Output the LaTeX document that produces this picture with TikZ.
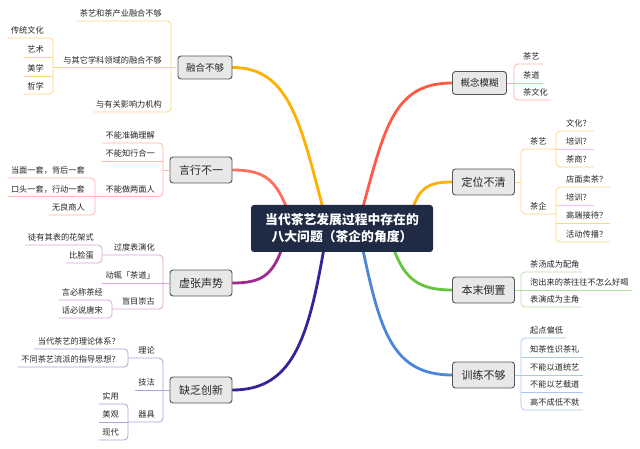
\documentclass[tikz,border=0pt]{standalone}
\usepackage{fontspec}
\setmainfont{Noto Sans CJK SC}
\usetikzlibrary{backgrounds}
\definecolor{mOrange}{HTML}{FFB000}
\definecolor{mSalmon}{HTML}{FF6F5E}
\definecolor{mPurple}{HTML}{9E2B8F}
\definecolor{mIndigo}{HTML}{34239A}
\definecolor{mRed}{HTML}{FF5A45}
\definecolor{mGreen}{HTML}{66C43E}
\definecolor{mBlue}{HTML}{4A86DA}
\definecolor{lOrange}{HTML}{FFD683}
\definecolor{lSalmon}{HTML}{FFB6AD}
\definecolor{lPurple}{HTML}{D9A5D4}
\definecolor{lIndigo}{HTML}{ABA3DC}
\definecolor{lRed}{HTML}{FFB1A6}
\definecolor{lGreen}{HTML}{B5E2A2}
\definecolor{lBlue}{HTML}{A9C7EF}
\definecolor{navy}{HTML}{1F2A44}
\definecolor{boxfill}{HTML}{E8E8E8}
\definecolor{boxline}{HTML}{555555}
\begin{document}
\begin{tikzpicture}[x=1pt,y=-1pt,
  leaf/.style={font=\fontsize{8.2}{9}\selectfont, text=black!85, inner xsep=3pt, inner ysep=3pt, text height=7pt, text depth=1pt},
  leafL/.style={leaf, anchor=south east},
  leafR/.style={leaf, anchor=south west},
  topic/.style={draw=boxline, fill=boxfill, rounded corners=3pt, line width=0.9pt, inner sep=0pt, minimum width=62pt, minimum height=26pt, font=\fontsize{11}{12}\selectfont, text=black!85},
  topicS/.style={topic, minimum width=54pt, minimum height=23pt, font=\fontsize{9.5}{11}\selectfont},
  center/.style={fill=navy, rounded corners=3pt, minimum width=182pt, minimum height=47pt, inner sep=0pt, align=center, text=white, font=\fontsize{12.8}{17}\selectfont\bfseries},
  main/.style={line width=2.8pt, line cap=round},
  sub/.style={line width=0.8pt, rounded corners=4pt},
]
\useasboundingbox (0,0) rectangle (640,449);

% ---------- center and topics
\node[center] (C) at (342,228.5) {当代茶艺发展过程中存在的\\八大问题（茶企的角度）};
\node[topicS] (T1) at (205,67.5) {融合不够};
\node[topic] (T2) at (201,170) {言行不一};
\node[topic] (T3) at (201,283) {虚张声势};
\node[topic] (T4) at (201,390) {缺乏创新};
\node[topicS] (R1) at (479.5,83) {概念模糊};
\node[topic] (R2) at (483.5,182) {定位不清};
\node[topic] (R3) at (483.5,290) {本末倒置};
\node[topic] (R4) at (483.5,375) {训练不够};

\begin{scope}[on background layer]
\fill[white] (0,0) rectangle (640,449);
\draw[main, mOrange] ([xshift=72pt,yshift=-3pt]C.north west) .. controls (300,120) and (288,67.5) .. (T1.east);
\draw[main, mSalmon] ([xshift=36pt,yshift=-3pt]C.north west) .. controls (275,180) and (265,170) .. (T2.east);
\draw[main, mPurple] ([xshift=31pt,yshift=3pt]C.south west) .. controls (272,275) and (262,283) .. (T3.east);
\draw[main, mIndigo] ([xshift=73pt,yshift=3pt]C.south west) .. controls (308,340) and (292,390) .. (T4.east);
\draw[main, mRed] ([xshift=112pt,yshift=-3pt]C.north west) .. controls (385,125) and (395,83) .. (R1.west);
\draw[main, mOrange] ([xshift=162pt,yshift=-3pt]C.north west) .. controls (420,188) and (428,182) .. (R2.west);
\draw[main, mGreen] ([xshift=143pt,yshift=3pt]C.south west) .. controls (405,280) and (420,290) .. (R3.west);
\draw[main, mBlue] ([xshift=112pt,yshift=3pt]C.south west) .. controls (380,330) and (392,375) .. (R4.west);
\end{scope}

% ---------- 融合不够
\coordinate (J1) at (171,67.5);
\coordinate (J1b) at (53,67.5);
\node[leafL] (a1) at (165,21) {茶艺和茶产业融合不够};
\node[leafL] (a2) at (165,67.5) {与其它学科领域的融合不够};
\node[leafL] (a3) at (165,112) {与有关影响力机构};
\draw[sub, lOrange] (a1.south west) -- (a1.south west -| J1) -- (a3.south west -| J1) -- (a3.south west);
\draw[sub, lOrange] (J1b) -- (T1.west);
\node[leafL] (b1) at (47,38) {传统文化};
\node[leafL] (b2) at (47,57) {艺术};
\node[leafL] (b3) at (47,76) {美学};
\node[leafL] (b4) at (47,94) {哲学};
\draw[sub, lOrange] (b1.south west) -- (b1.south west -| J1b) -- (b4.south west -| J1b) -- (b4.south west);
\draw[sub, lOrange] (b2.south west) -- (b2.south west -| J1b);
\draw[sub, lOrange] (b3.south west) -- (b3.south west -| J1b);

% ---------- 言行不一
\coordinate (J2) at (163,170);
\coordinate (J2b) at (95,196.5);
\node[leafL] (c1) at (158,143) {不能准确理解};
\node[leafL] (c2) at (158,161) {不能知行合一};
\node[leafL] (c3) at (158,196.5) {不能做两面人};
\draw[sub, lSalmon] (c1.south west) -- (c1.south west -| J2) -- (J2b -| J2) -- (J2b);
\draw[sub, lSalmon] (c2.south west) -- (c2.south west -| J2);
\draw[sub, lSalmon] (T2.west) -- (J2);
\node[leafL] (d1) at (88,178) {当面一套，背后一套};
\node[leafL] (d2) at (88,196.5) {口头一套，行动一套};
\node[leafL] (d3) at (88,215) {无良商人};
\draw[sub, lSalmon] (d1.south west) -- (d1.south west -| J2b) -- (d3.south west -| J2b) -- (d3.south west);
\draw[sub, lSalmon] (d2.south west) -- (J2b);

% ---------- 虚张声势
\coordinate (J3) at (163,283);
\coordinate (J3a) at (102,255);
\coordinate (J3b) at (112,309);
\node[leafL] (e1) at (158,255) {过度表演化};
\node[leafL] (e2) at (158,283) {动辄「茶道」};
\node[leafL] (e3) at (158,309) {盲目崇古};
\draw[sub, lPurple] (J3a) -- (J3a -| J3) -- (J3b -| J3) -- (J3b);
\draw[sub, lPurple] (e2.south west) -- (T3.west);
\node[leafL] (f1) at (97,245) {徒有其表的花架式};
\node[leafL] (f2) at (97,263) {比脸蛋};
\draw[sub, lPurple] (f1.south west) -- (f1.south west -| J3a) -- (f2.south west -| J3a) -- (f2.south west);
\node[leafL] (g1) at (106,300) {言必称茶经};
\node[leafL] (g2) at (106,318) {话必说唐宋};
\draw[sub, lPurple] (g1.south west) -- (g1.south west -| J3b) -- (g2.south west -| J3b) -- (g2.south west);

% ---------- 缺乏创新
\coordinate (J4) at (163,390);
\coordinate (J4a) at (128,358);
\coordinate (J4b) at (128,422);
\node[leafL] (h1) at (158,358) {理论};
\node[leafL] (h2) at (158,390) {技法};
\node[leafL] (h3) at (158,422) {器具};
\draw[sub, lIndigo] (J4a) -- (J4a -| J4) -- (J4b -| J4) -- (J4b);
\draw[sub, lIndigo] (h2.south west) -- (T4.west);
\node[leafL] (i1) at (123,349) {当代茶艺的理论体系？};
\node[leafL] (i2) at (123,367) {不同茶艺流派的指导思想？};
\draw[sub, lIndigo] (i1.south west) -- (i1.south west -| J4a) -- (i2.south west -| J4a) -- (i2.south west);
\node[leafL] (k1) at (122,404) {实用};
\node[leafL] (k2) at (122,422) {美观};
\node[leafL] (k3) at (122,440) {现代};
\draw[sub, lIndigo] (k1.south west) -- (k1.south west -| J4b) -- (k3.south west -| J4b) -- (k3.south west);
\draw[sub, lIndigo] (k2.south west) -- (J4b);

% ---------- 概念模糊
\coordinate (K1) at (514,83);
\node[leafR] (m1) at (520,64) {茶艺};
\node[leafR] (m2) at (520,83) {茶道};
\node[leafR] (m3) at (520,100) {茶文化};
\draw[sub, lRed] (m1.south east) -- (m1.south east -| K1) -- (m3.south east -| K1) -- (m3.south east);
\draw[sub, lRed] (R1.east) -- (m2.south east);

% ---------- 定位不清
\coordinate (K2) at (521,182);
\coordinate (K2a) at (556,149);
\coordinate (K2b) at (556,214);
\node[leafR] (n1) at (527,149) {茶艺};
\node[leafR] (n2) at (527,214) {茶企};
\draw[sub, lOrange] (K2a) -- (K2a -| K2) -- (K2b -| K2) -- (K2b);
\draw[sub, lOrange] (R2.east) -- (K2);
\node[leafR] (o1) at (563,131) {文化？};
\node[leafR] (o2) at (563,149) {培训？};
\node[leafR] (o3) at (563,167) {茶商？};
\draw[sub, lOrange] (o1.south east) -- (o1.south east -| K2a) -- (o3.south east -| K2a) -- (o3.south east);
\draw[sub, lOrange] (K2a) -- (o2.south east);
\node[leafR] (p1) at (563,187) {店面卖茶？};
\node[leafR] (p2) at (563,205) {培训？};
\node[leafR] (p3) at (563,223) {高端接待？};
\node[leafR] (p4) at (563,242) {活动传播？};
\draw[sub, lOrange] (p1.south east) -- (p1.south east -| K2b) -- (p4.south east -| K2b) -- (p4.south east);
\draw[sub, lOrange] (p2.south east -| K2b) -- (p2.south east);
\draw[sub, lOrange] (p3.south east -| K2b) -- (p3.south east);

% ---------- 本末倒置
\coordinate (K3) at (521,290);
\node[leafR] (q1) at (527,272) {茶汤成为配角};
\node[leafR] (q2) at (527,290) {泡出来的茶往往不怎么好喝};
\node[leafR] (q3) at (527,307) {表演成为主角};
\draw[sub, lGreen] (q1.south east) -- (q1.south east -| K3) -- (q3.south east -| K3) -- (q3.south east);
\draw[sub, lGreen] (R3.east) -- (q2.south east);

% ---------- 训练不够
\coordinate (K4) at (521,375);
\node[leafR] (r1) at (527,338) {起点偏低};
\node[leafR] (r2) at (527,357) {知茶性识茶礼};
\node[leafR] (r3) at (527,375) {不能以道统艺};
\node[leafR] (r4) at (527,392) {不能以艺载道};
\node[leafR] (r5) at (527,410) {高不成低不就};
\draw[sub, lBlue] (r1.south east) -- (r1.south east -| K4) -- (r5.south east -| K4) -- (r5.south east);
\draw[sub, lBlue] (r2.south east -| K4) -- (r2.south east);
\draw[sub, lBlue] (R4.east) -- (r3.south east);
\draw[sub, lBlue] (r4.south east -| K4) -- (r4.south east);
\end{tikzpicture}
\end{document}
